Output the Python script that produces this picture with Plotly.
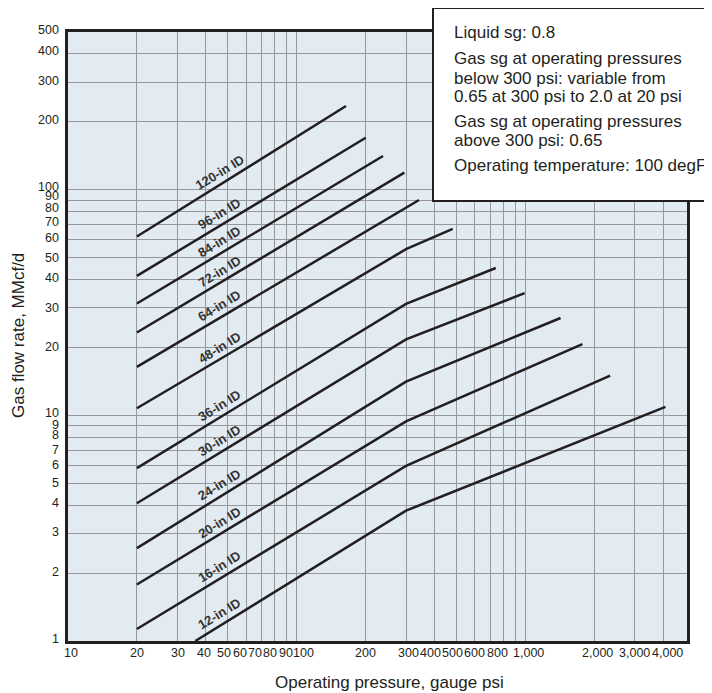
import numpy as np
import plotly.graph_objects as go

# ---------------- data ----------------
pipe_labels = ["120-in ID", "96-in ID", "84-in ID", "72-in ID", "64-in ID", "48-in ID",
               "36-in ID", "30-in ID", "24-in ID", "20-in ID", "16-in ID", "12-in ID"]
pressure_psi = [
    [20, 164], [20, 200], [20, 238], [20, 295], [20, 342],
    [20, 300, 480], [20, 300, 740], [20, 300, 990], [20, 300, 1420],
    [20, 300, 1770], [20, 300, 2340], [36, 300, 4080],
]
gas_flow = [
    [62, 235], [41.5, 170], [31.3, 141], [23.3, 119], [16.4, 90],
    [10.75, 54.5, 67], [5.84, 31.2, 45], [4.08, 21.7, 34.8], [2.58, 14.1, 27],
    [1.78, 9.4, 20.7], [1.13, 5.97, 15], [1.0, 3.78, 10.9],
]
label_pressure = 46  # where the size labels sit along each line

x_grid_vals = [10, 20, 30, 40, 50, 60, 70, 80, 90, 100, 200, 300, 400, 500, 600, 700,
               800, 900, 1000, 2000, 3000, 4000]
x_tick_vals = [10, 20, 30, 40, 50, 60, 70, 80, 90, 100, 200, 300, 400, 500, 600, 800,
               1000, 2000, 3000, 4000]
x_tick_text = ["10", "20", "30", "40", "50", "60", "70", "80", "90", "100", "200", "300",
               "400", "500", "600", "800", "1,000", "2,000", "3,000", "4,000"]
y_tick_vals = [1, 2, 3, 4, 5, 6, 7, 8, 9, 10, 20, 30, 40, 50, 60, 70, 80, 90, 100,
               200, 300, 400, 500]
y_tick_text = [str(v) for v in y_tick_vals]

note_lines = ["Liquid sg: 0.8",
              "Gas sg at operating pressures",
              "below 300 psi: variable from",
              "0.65 at 300 psi to 2.0 at 20 psi",
              "Gas sg at operating pressures",
              "above 300 psi: 0.65",
              "Operating temperature: 100 degF"]

# ---------------- style ----------------
FONT = "Liberation Sans, Arial, sans-serif"
INK = "#231f20"
GRID = "#97989b"
x_label_shift = [3, 0, 1, -2, -4, -6, -6, -5, 0, 7, 0, 2, -4, -4, 0, -6, 3, 3, 0, 4]
y_label_shift = [2, 1, 1, 2, 0, 0, 0, 2, 1, 2, 0, 0, 2, 0, 2, 3, 4, 4, 3, 2, 1, 3, 2]
note_y_px = [32, 59, 78, 97, 121, 140, 166]
TICK_SIZE = 12.5

# page body has an 8 px margin; figure is sized so the plot lands where the reference has it
BODY = 8
W, H = 712 - BODY, 693 - BODY
PL, PT, PR, PB = 68, 32, 687, 641          # plot area in window pixels
ML, MT = PL - BODY, PT - BODY
MR, MB = W - ML - (PR - PL), H - MT - (PB - PT)
PW, PH = PR - PL, PB - PT


def px_to_paper_x(px):
    return (px - PL) / PW


def px_to_paper_y(py):
    return (PB - py) / PH


fig = go.Figure()
annotations = []

for name, xs, ys in zip(pipe_labels, pressure_psi, gas_flow):
    fig.add_trace(go.Scatter(x=xs, y=ys, mode="lines", line=dict(color=INK, width=2.5),
                             name=name, showlegend=False, hoverinfo="skip"))
    ly = np.interp(np.log10(label_pressure), np.log10(xs), np.log10(ys))
    annotations.append(dict(x=np.log10(label_pressure), y=ly, xref="x", yref="y",
                            text="<b>%s</b>" % name, showarrow=False, textangle=-31.5,
                            yshift=12, font=dict(family=FONT, size=13, color="#333333")))

for v, t, s in zip(x_tick_vals, x_tick_text, x_label_shift):
    annotations.append(dict(x=np.log10(v), y=px_to_paper_y(653), xref="x", yref="paper",
                            text=t, showarrow=False, xanchor="center", yanchor="middle",
                            xshift=s, font=dict(family=FONT, size=TICK_SIZE, color=INK)))

for v, t, s in zip(y_tick_vals, y_tick_text, y_label_shift):
    annotations.append(dict(x=px_to_paper_x(61), y=np.log10(v), xref="paper", yref="y",
                            text=t, showarrow=False, xanchor="right", yanchor="middle",
                            yshift=s, font=dict(family=FONT, size=TICK_SIZE, color=INK)))

for t, py in zip(note_lines, note_y_px):
    annotations.append(dict(x=px_to_paper_x(452), y=px_to_paper_y(py), xref="paper",
                            yref="paper", text=t, showarrow=False, xanchor="left",
                            yanchor="middle", font=dict(family=FONT, size=17, color=INK)))

annotations.append(dict(x=px_to_paper_x(389), y=px_to_paper_y(682), xref="paper",
                        yref="paper", text="Operating pressure, gauge psi", showarrow=False,
                        xanchor="center", yanchor="middle",
                        font=dict(family=FONT, size=17, color=INK)))
annotations.append(dict(x=px_to_paper_x(19), y=px_to_paper_y(336), xref="paper",
                        yref="paper", text="Gas flow rate, MMcf/d", showarrow=False,
                        textangle=-90, xanchor="center", yanchor="middle",
                        font=dict(family=FONT, size=17, color=INK)))

shapes = [dict(type="rect", xref="paper", yref="paper",
               x0=px_to_paper_x(433), x1=px_to_paper_x(716),
               y0=px_to_paper_y(201), y1=px_to_paper_y(8),
               fillcolor="white", line=dict(color=INK, width=2), layer="above")]

axis_common = dict(type="log", showline=True, mirror=True, linewidth=3, linecolor=INK,
                   showgrid=True, gridcolor=GRID, gridwidth=1.3, ticks="",
                   showticklabels=False, zeroline=False, fixedrange=True)

fig.update_layout(
    width=W, height=H,
    margin=dict(l=ML, r=MR, t=MT, b=MB, pad=0),
    paper_bgcolor="white", plot_bgcolor="#e2eaf2",
    xaxis=dict(range=[1, 3.705], tickmode="array", tickvals=x_grid_vals, **axis_common),
    yaxis=dict(range=[0, np.log10(500)], tickmode="array", tickvals=y_tick_vals,
               **axis_common),
    annotations=annotations, shapes=shapes, showlegend=False,
)

fig.write_html("out.html")
